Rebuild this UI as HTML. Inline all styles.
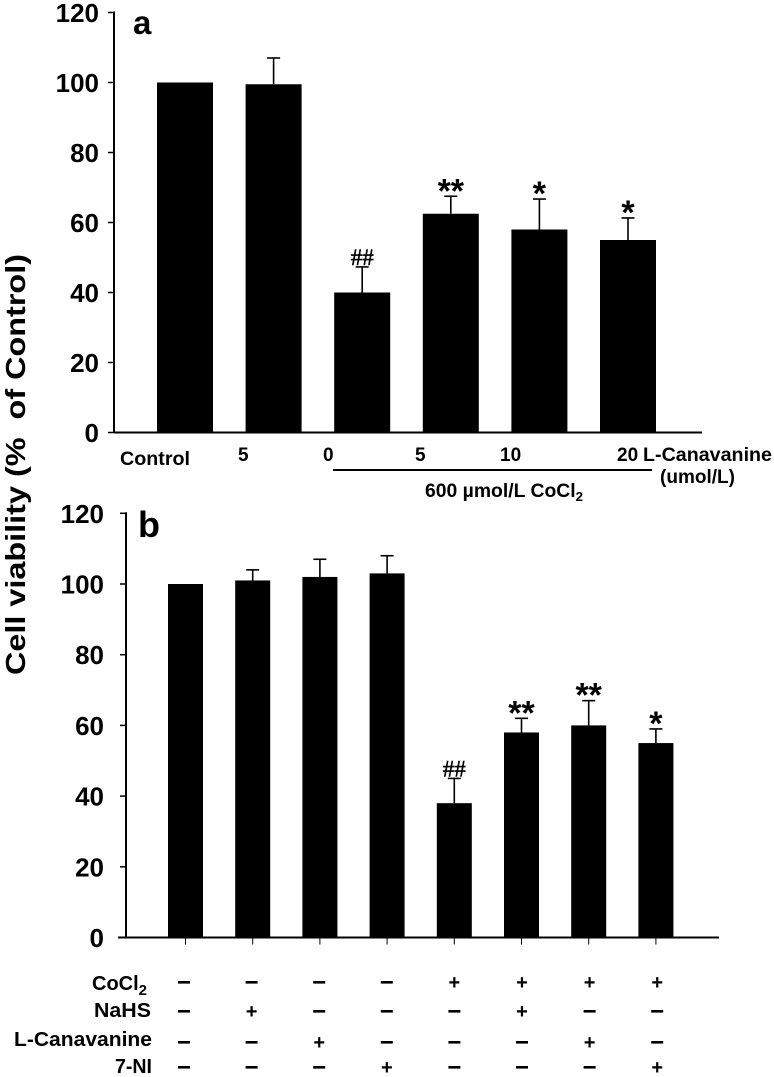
<!DOCTYPE html>
<html lang="en">
<head>
<meta charset="utf-8">
<title>Cell viability bar charts</title>
<style>
html,body{margin:0;padding:0;background:#fff;}
svg{display:block;}
text{font-family:"Liberation Sans",sans-serif;font-weight:bold;fill:#000;}
</style>
</head>
<body>
<svg id="figure" xmlns="http://www.w3.org/2000/svg" width="774" height="1077" viewBox="0 0 774 1077">
  <text transform="translate(25,675) rotate(-90)" font-size="28" textLength="421" lengthAdjust="spacingAndGlyphs">Cell viability (%&#160;&#160;of Control)</text>
  <text x="133" y="34" font-size="33">a</text>
  <text x="138" y="537" font-size="36">b</text>

  <text x="120" y="465" font-size="19" textLength="70" lengthAdjust="spacingAndGlyphs">Control</text>
  <text x="238" y="461" font-size="19">5</text>
  <text x="323" y="461" font-size="19">0</text>
  <text x="415" y="461" font-size="19">5</text>
  <text x="500" y="461" font-size="19">10</text>
  <text x="617" y="461" font-size="19">20</text>
  <text x="643" y="461" font-size="19" textLength="129" lengthAdjust="spacingAndGlyphs">L-Canavanine</text>
  <text x="660" y="483" font-size="19" textLength="75" lengthAdjust="spacingAndGlyphs">(umol/L)</text>
  <line x1="333" y1="470" x2="652" y2="470" stroke="#000" stroke-width="2"/>
  <text x="425" y="497" font-size="19" textLength="158" lengthAdjust="spacingAndGlyphs">600 µmol/L CoCl<tspan font-size="13" dy="4">2</tspan></text>

  <text x="92" y="990" font-size="20">CoCl<tspan font-size="15" dy="5">2</tspan></text>
  <text x="94" y="1017" font-size="20" textLength="57" lengthAdjust="spacingAndGlyphs">NaHS</text>
  <text x="14" y="1046" font-size="20" textLength="138" lengthAdjust="spacingAndGlyphs">L-Canavanine</text>
  <text x="115" y="1073" font-size="20" textLength="37" lengthAdjust="spacingAndGlyphs">7-NI</text>

  <g id="chart-a"></g>
  <g id="chart-b"></g>
  <g id="treatment-table"></g>
</svg>
<script>
var tickLabels = [0, 20, 40, 60, 80, 100, 120];

var categoriesA = ["Control", "5", "0", "5", "10", "20"];
var meansA = [100, 99.5, 40, 62.5, 58, 55];
var errorTopsA = [100, 107, 47.3, 67.5, 66.7, 61.3];
var marksA = ["", "", "##", "**", "*", "*"];

var categoriesB = ["Control", "NaHS", "L-Canavanine", "7-NI", "CoCl2", "CoCl2+NaHS", "CoCl2+L-Canavanine", "CoCl2+7-NI"];
var meansB = [100, 101, 102, 103, 38, 58, 60, 55];
var errorTopsB = [100, 104, 107, 108, 45, 62, 67, 59];
var marksB = ["", "", "", "", "##", "**", "**", "*"];

var rowCoCl2 = ["-", "-", "-", "-", "+", "+", "+", "+"];
var rowNaHS = ["-", "+", "-", "-", "-", "+", "-", "-"];
var rowLCanavanine = ["-", "-", "+", "-", "-", "-", "+", "-"];
var row7NI = ["-", "-", "-", "+", "-", "-", "-", "+"];

var NS = "http://www.w3.org/2000/svg";

function make(parent, tag, attrs) {
  var el = document.createElementNS(NS, tag);
  for (var k in attrs) { el.setAttribute(k, attrs[k]); }
  parent.appendChild(el);
  return el;
}

function drawChart(root, cfg, categories, means, errorTops, marks) {
  var y = function (v) { return cfg.y0 - v * cfg.unit; };
  var x = function (i) { return cfg.x0 + i * cfg.step; };

  var yAxis = make(root, "line", { x1: cfg.axisX, x2: cfg.axisX, y1: y(120) - 1, y2: y(0), stroke: "#000", "stroke-width": 2 });
  
  

  var xAxis = make(root, "line", { x1: cfg.axisLeft, x2: cfg.axisRight, y1: y(0), y2: y(0), stroke: "#000", "stroke-width": 2 });
  
  

  tickLabels.forEach(function (t) {
    var tick = make(root, "line", { x1: cfg.axisX - 6, x2: cfg.axisX, y1: y(t), y2: y(t), stroke: "#000", "stroke-width": 1.5 });
    
    
    var label = make(root, "text", { x: cfg.labelRight, y: y(t) + 9.5, "text-anchor": "end", "font-size": 26 });
    
    
    label.textContent = t;
  });

  categories.forEach(function (c, i) {
    var cx = x(i);
    if (errorTops[i] > means[i]) {
      var stem = make(root, "line", { x1: cx, x2: cx, y1: y(errorTops[i]), y2: y(means[i]), stroke: "#000", "stroke-width": 1.6 });
      
      
      var cap = make(root, "line", { x1: cx - 6.5, x2: cx + 6.5, y1: y(errorTops[i]), y2: y(errorTops[i]), stroke: "#000", "stroke-width": 1.6 });
      
      
    }
    var bar = make(root, "rect", { x: cx - cfg.barWidth / 2, y: y(means[i]), width: cfg.barWidth, height: y(0) - y(means[i]), fill: "#000" });
    
    
    if (cfg.xTicks) {
      var xt = make(root, "line", { x1: cx, x2: cx, y1: y(0), y2: y(0) + 7, stroke: "#000", "stroke-width": 1 });
      
      
    }
    if (marks[i]) {
      var isHash = marks[i] === "##";
      var m = make(root, "text", { x: cx, y: y(errorTops[i]) + (isHash ? -2 : 6), "text-anchor": "middle", "font-size": isHash ? 23 : 34, style: isHash ? "font-family:'Liberation Serif',serif;font-weight:normal;stroke:#000;stroke-width:0.5" : "" });
      
      
      m.textContent = marks[i];
    }
  });
}

drawChart(document.getElementById("chart-a"),
  { x0: 185, step: 88.6, barWidth: 56, y0: 432.5, unit: 3.5, axisX: 114, axisLeft: 114, axisRight: 702, labelRight: 99, xTicks: false },
  categoriesA, meansA, errorTopsA, marksA);

drawChart(document.getElementById("chart-b"),
  { x0: 185.5, step: 67.2, barWidth: 35, y0: 937.5, unit: 3.535, axisX: 126, axisLeft: 118, axisRight: 719, labelRight: 104, xTicks: true },
  categoriesB, meansB, errorTopsB, marksB);

var tableRoot = document.getElementById("treatment-table");
var rows = [rowCoCl2, rowNaHS, rowLCanavanine, row7NI];
rows.forEach(function (row, r) {
  row.forEach(function (s, i) {
    var tx = 184 + i * 67.6;
    var ty = r === 0 ? 982 : r === 1 ? 1011 : r === 2 ? 1042 : 1067;
    if (s === "-") {
      var minus = make(tableRoot, "rect", { x: tx - 6, y: ty - 1, width: 12, height: 2.6, fill: "#000" });
      
      
    } else {
      var plus = make(tableRoot, "text", { x: tx, y: ty + 7, "text-anchor": "middle", "font-size": 20 });
      
      
      plus.textContent = "+";
    }
  });
});
</script>
</body>
</html>
